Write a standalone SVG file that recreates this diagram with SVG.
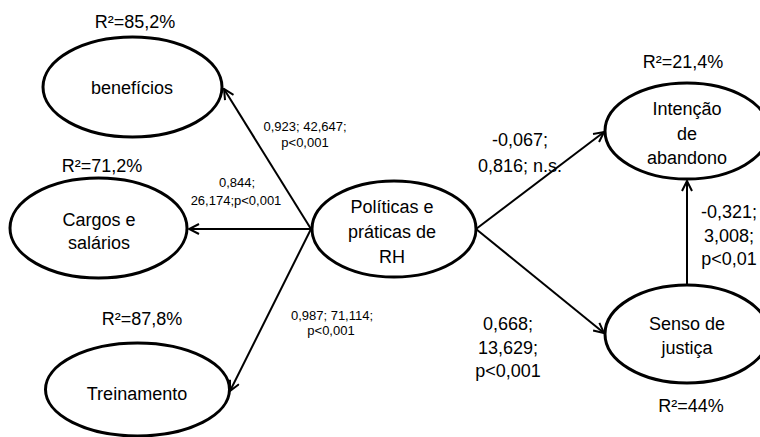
<svg xmlns="http://www.w3.org/2000/svg" width="760" height="437" viewBox="0 0 760 437">
<defs>
<marker id="arr" viewBox="0 0 12 12" refX="11" refY="6" markerWidth="12" markerHeight="12" markerUnits="userSpaceOnUse" orient="auto">
<path d="M1,1 L11,6 L1,11" fill="none" stroke="#000" stroke-width="2"/>
</marker>
<style>
.n{fill:#fff;stroke:#000;stroke-width:3}
.t{font-family:"Liberation Sans",Arial,sans-serif;font-size:18px;fill:#000;text-anchor:middle}
.s{font-family:"Liberation Sans",Arial,sans-serif;font-size:13px;fill:#000;text-anchor:middle}
.c{fill:none;stroke:#000;stroke-width:2;marker-end:url(#arr)}
</style>
</defs>
<rect width="760" height="437" fill="#fff"/>
<g id="connectors">
<line class="c" x1="311" y1="229" x2="224" y2="89"/>
<line class="c" x1="311" y1="229" x2="189" y2="229"/>
<line class="c" x1="311" y1="229" x2="230" y2="391"/>
<line class="c" x1="476" y1="229" x2="604" y2="132"/>
<line class="c" x1="476" y1="229" x2="604" y2="333"/>
<line class="c" x1="687" y1="285" x2="687" y2="181"/>
</g>
<g id="beneficios">
<ellipse class="n" cx="132.5" cy="87" rx="89.5" ry="50"/>
<text class="t" x="132" y="94">benefícios</text>
<text class="t" x="135" y="28">R²=85,2%</text>
</g>
<g id="cargos">
<ellipse class="n" cx="98.5" cy="228" rx="88.5" ry="50"/>
<text class="t" x="99" y="226">Cargos e</text>
<text class="t" x="99" y="249">salários</text>
<text class="t" x="102" y="172">R²=71,2%</text>
</g>
<g id="treinamento">
<ellipse class="n" cx="137.5" cy="389.5" rx="92" ry="46.5"/>
<text class="t" x="137" y="400">Treinamento</text>
<text class="t" x="142" y="325">R²=87,8%</text>
</g>
<g id="politicas">
<ellipse class="n" cx="394" cy="229" rx="82" ry="48"/>
<text class="t" x="392" y="213">Políticas e</text>
<text class="t" x="392" y="238">práticas de</text>
<text class="t" x="392" y="263">RH</text>
</g>
<g id="intencao">
<ellipse class="n" cx="687" cy="131" rx="82" ry="48"/>
<text class="t" x="687" y="115">Intenção</text>
<text class="t" x="687" y="140">de</text>
<text class="t" x="687" y="164">abandono</text>
<text class="t" x="683" y="68">R²=21,4%</text>
</g>
<g id="senso">
<ellipse class="n" cx="687" cy="334" rx="82" ry="49"/>
<text class="t" x="687" y="330">Senso de</text>
<text class="t" x="687" y="354">justiça</text>
<text class="t" x="691" y="412">R²=44%</text>
</g>
<g id="labels">
<text class="s" x="305" y="131">0,923; 42,647;</text>
<text class="s" x="305" y="147">p&lt;0,001</text>
<text class="s" x="237" y="187">0,844;</text>
<text class="s" x="236" y="205">26,174;p&lt;0,001</text>
<text class="s" x="332" y="320">0,987; 71,114;</text>
<text class="s" x="331" y="335">p&lt;0,001</text>
<text class="t" x="520" y="146">-0,067;</text>
<text class="t" x="520" y="172">0,816; n.s.</text>
<text class="t" x="508" y="330">0,668;</text>
<text class="t" x="508" y="354">13,629;</text>
<text class="t" x="508" y="377">p&lt;0,001</text>
<text class="t" x="729" y="218">-0,321;</text>
<text class="t" x="729" y="242">3,008;</text>
<text class="t" x="729" y="265">p&lt;0,01</text>
</g>
</svg>
